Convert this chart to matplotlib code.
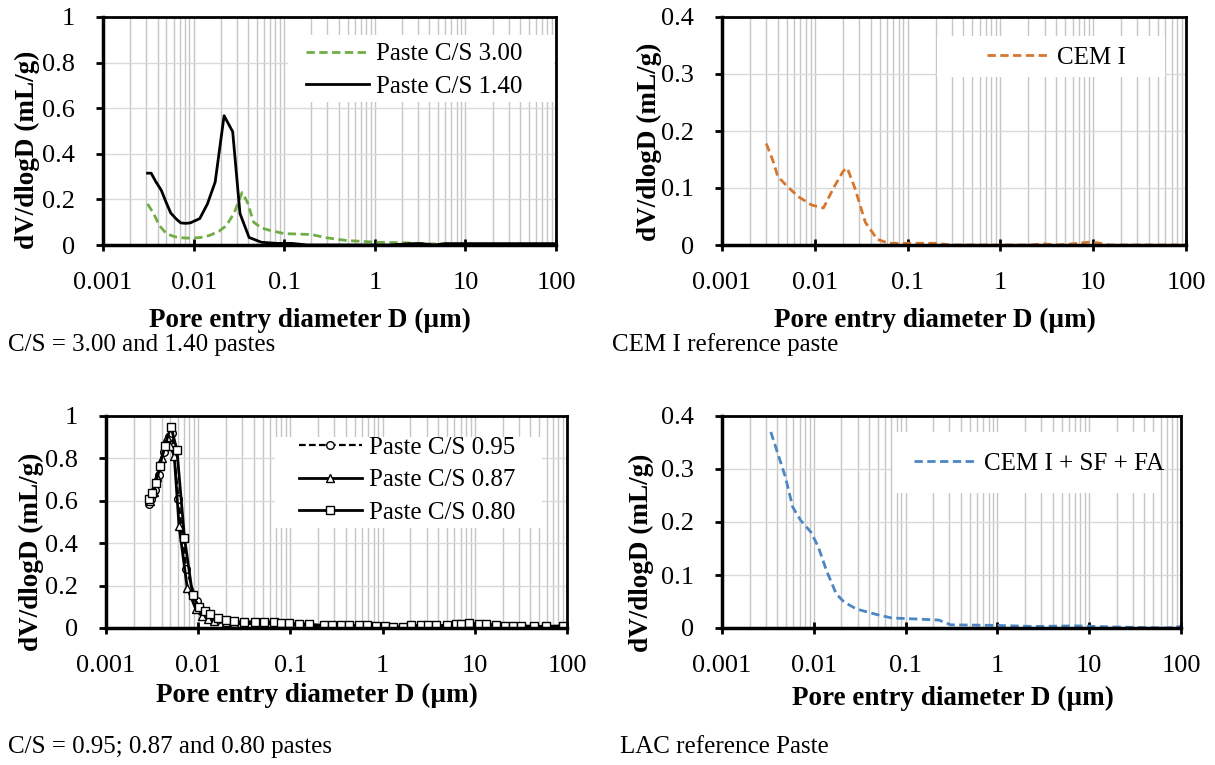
import numpy as np
import matplotlib
matplotlib.use("Agg")
import matplotlib.pyplot as plt
from matplotlib.patches import Rectangle
from matplotlib.ticker import LogLocator, FuncFormatter, NullFormatter

plt.rcParams['font.family'] = ['Liberation Serif', 'DejaVu Serif']

# --- C/S 3.00 and 1.40 pastes ---
d_cs300 = [0.0031, 0.0036, 0.0042, 0.005, 0.0062, 0.0078, 0.0096, 0.012, 0.015, 0.019, 0.023,
           0.028, 0.0343, 0.039, 0.046, 0.056, 0.068, 0.1, 0.2, 0.29, 0.48, 1.04, 2.0, 4.0, 10, 30, 100]
v_cs300 = [0.18, 0.14, 0.085, 0.05, 0.036, 0.031, 0.03, 0.033, 0.042, 0.06, 0.085,
           0.14, 0.23, 0.19, 0.10, 0.075, 0.065, 0.05, 0.046, 0.032, 0.02, 0.012, 0.01, 0.005, 0.004, 0.003, 0.004]

d_cs140 = [0.0031, 0.0034, 0.0038, 0.0044, 0.005, 0.0056, 0.0064, 0.0072, 0.0082, 0.0092, 0.0117,
           0.0142, 0.0173, 0.0217, 0.027, 0.0325, 0.041, 0.056, 0.083, 0.122, 0.18, 0.5, 1.5,
           2.5, 3.3, 4.5, 6.0, 20, 100]
v_cs140 = [0.315, 0.315, 0.28, 0.24, 0.185, 0.14, 0.115, 0.097, 0.095, 0.097, 0.116,
           0.18, 0.276, 0.567, 0.497, 0.138, 0.033, 0.012, 0.007, 0.007, 0.0, 0.0, 0.0,
           0.006, 0.006, 0.0, 0.006, 0.006, 0.006]

# --- CEM I reference paste ---
d_cem = [0.003, 0.0035, 0.004, 0.0049, 0.0066, 0.0093, 0.0124, 0.0159, 0.0203, 0.0224, 0.027,
         0.035, 0.047, 0.063, 0.1, 0.2, 0.3, 1.0, 2.0, 3.0, 4.0, 6.0, 9.0, 11, 15, 30, 100]
v_cem = [0.178, 0.15, 0.12, 0.105, 0.085, 0.07, 0.065, 0.1, 0.13, 0.135, 0.1,
         0.04, 0.01, 0.003, 0.003, 0.003, 0.0, 0.0, 0.0, 0.002, 0.0, 0.002, 0.005, 0.004, 0.0, 0.0, 0.0]

# --- C/S 0.95, 0.87, 0.80 pastes (peak part + shared tail) ---
d_pk_095 = [0.0029, 0.0031, 0.0034, 0.0038, 0.0043, 0.0048, 0.0052, 0.0061, 0.0074, 0.0096, 0.0115, 0.0135, 0.016]
v_pk_095 = [0.585, 0.61, 0.65, 0.72, 0.83, 0.90, 0.92, 0.61, 0.28, 0.126, 0.07, 0.05, 0.038]
d_pk_087 = [0.003, 0.0033, 0.0036, 0.004, 0.0046, 0.005, 0.0055, 0.0062, 0.0076, 0.0094, 0.011, 0.0128, 0.015]
v_pk_087 = [0.60, 0.64, 0.71, 0.80, 0.90, 0.86, 0.81, 0.48, 0.19, 0.09, 0.055, 0.042, 0.032]
d_pk_080 = [0.00292, 0.00315, 0.00348, 0.00384, 0.00435, 0.00506, 0.00588, 0.0071, 0.0087, 0.0102, 0.0118, 0.0134, 0.0162]
v_pk_080 = [0.61, 0.635, 0.685, 0.765, 0.86, 0.95, 0.84, 0.425, 0.155, 0.098, 0.082, 0.066, 0.047]

d_tail = [0.0199, 0.0245, 0.0314, 0.041, 0.052, 0.066, 0.080, 0.097, 0.124, 0.158, 0.23, 0.28, 0.355,
          0.43, 0.55, 0.67, 0.85, 1.07, 1.31, 1.66, 2.03, 2.6, 3.1, 3.8, 5.0, 6.2, 7.1, 8.6, 11,
          13.2, 16.8, 21.5, 26, 31.6, 44, 59, 91]
v_tail_095 = [0.03, 0.026, 0.024, 0.026, 0.026, 0.024, 0.022, 0.019, 0.017, 0.015, 0.01, 0.01, 0.01,
              0.01, 0.01, 0.01, 0.008, 0.007, 0.004, 0.004, 0.01, 0.01, 0.01, 0.01, 0.011, 0.016, 0.019,
              0.021, 0.019, 0.016, 0.013, 0.009, 0.008, 0.008, 0.007, 0.007, 0.009]
v_tail_087 = [0.026, 0.022, 0.02, 0.022, 0.022, 0.02, 0.018, 0.016, 0.014, 0.012, 0.008, 0.008, 0.008,
              0.008, 0.008, 0.008, 0.006, 0.005, 0.003, 0.003, 0.008, 0.008, 0.008, 0.008, 0.01, 0.014, 0.018,
              0.02, 0.018, 0.015, 0.012, 0.008, 0.007, 0.007, 0.006, 0.006, 0.008]
v_tail_080 = [0.036, 0.031, 0.028, 0.03, 0.03, 0.028, 0.025, 0.022, 0.02, 0.018, 0.012, 0.012, 0.012,
              0.012, 0.012, 0.012, 0.01, 0.01, 0.005, 0.005, 0.012, 0.012, 0.012, 0.012, 0.012, 0.018, 0.02,
              0.022, 0.02, 0.018, 0.015, 0.01, 0.01, 0.01, 0.008, 0.008, 0.01]

# --- LAC reference paste ---
d_lac = [0.0034, 0.0049, 0.0059, 0.0072, 0.0093, 0.0112, 0.0137, 0.0176, 0.0214, 0.029, 0.047,
         0.07, 0.128, 0.23, 0.31, 0.9, 2.5, 7.3, 18, 71, 100]
v_lac = [0.37, 0.285, 0.228, 0.203, 0.181, 0.153, 0.109, 0.064, 0.049, 0.036, 0.026,
         0.019, 0.017, 0.015, 0.006, 0.005, 0.003, 0.004, 0.002, 0.0, 0.003]

W, H = 1215, 765
fig = plt.figure(figsize=(W / 100, H / 100), dpi=100)


def make_ax(x0, x1, ytop, ybot):
    ax = fig.add_axes([x0 / W, 1 - ybot / H, (x1 - x0) / W, (ybot - ytop) / H])
    ax._px = (x0, x1, ytop, ybot)
    return ax


def to_ax(ax, px, py):
    x0, x1, ytop, ybot = ax._px
    return (px - x0) / (x1 - x0), (ybot - py) / (ybot - ytop)


def style(ax, ymax, ystep):
    ax.set_xscale('log')
    ax.set_xlim(0.001, 100)
    ax.set_ylim(0, ymax)
    ax.set_yticks(np.arange(0, ymax + 1e-9, ystep))
    ax.yaxis.set_major_formatter(FuncFormatter(lambda v, _: f'{v:g}'))
    ax.xaxis.set_major_locator(LogLocator(base=10, numticks=10))
    ax.xaxis.set_minor_locator(LogLocator(base=10, subs=np.arange(2, 10), numticks=100))
    ax.xaxis.set_major_formatter(FuncFormatter(lambda v, _: f'{v:g}'))
    ax.xaxis.set_minor_formatter(NullFormatter())
    ax.grid(True, which='both', axis='x', color='#c6c6c6', lw=1)
    ax.grid(True, which='major', axis='y', color='#d9d9d9', lw=1)
    ax.set_axisbelow(True)
    ax.tick_params(which='minor', length=0)
    ax.tick_params(axis='x', which='major', direction='inout', length=9, width=2, pad=15, labelsize=19)
    ax.tick_params(axis='y', which='major', direction='out', length=5, width=2, pad=15, labelsize=19)
    for s in ax.spines.values():
        s.set_color('black')
        s.set_linewidth(2)
    ax.spines['left'].set_linewidth(2.5)
    ax.spines['bottom'].set_linewidth(2.5)


def leg(ax, box, hx, ymid):
    # white legend area (pixel box: x0, x1, ytop, ybot), then frameless legend
    bx0, by0 = to_ax(ax, box[0], box[3])
    bx1, by1 = to_ax(ax, box[1], box[2])
    ax.add_patch(Rectangle((bx0, by0), bx1 - bx0, by1 - by0, transform=ax.transAxes,
                           facecolor='white', edgecolor='none', zorder=1))
    ax.legend(loc='center left', bbox_to_anchor=to_ax(ax, hx, ymid), fontsize=18, frameon=False,
              handlelength=2.5, labelspacing=0.4, borderaxespad=0, borderpad=0,
              handletextpad=0.3)


ylab = 'dV/dlogD (mL/g)'
xlab = 'Pore entry diameter D (µm)'
lab_kw = dict(fontsize=19.5, fontweight='bold', ha='center', va='center')
cap_kw = dict(fontsize=18, ha='left', va='center')

# top left
ax1 = make_ax(103, 556, 17, 245)
style(ax1, 1, 0.2)
ax1.plot(d_cs300, v_cs300, color='#70AD47', lw=2, ls=(0, (3, 1.6)), label='Paste C/S 3.00')
ax1.plot(d_cs140, v_cs140, color='black', lw=2, label='Paste C/S 1.40')
leg(ax1, (288, 554, 35, 102), 306, 70.5)
fig.text(27 / W, 1 - 150 / H, ylab, rotation=90, **lab_kw)
fig.text(310 / W, 1 - 320 / H, xlab, **lab_kw)
fig.text(8 / W, 1 - 345 / H, 'C/S = 3.00 and 1.40 pastes', **cap_kw)

# top right
ax2 = make_ax(722, 1186, 17, 245)
style(ax2, 0.4, 0.1)
ax2.plot(d_cem, v_cem, color='#D7772F', lw=2, ls=(0, (3, 1.6)), label='CEM I')
leg(ax2, (937, 1165, 36, 77), 987, 58)
fig.text(649 / W, 1 - 142 / H, ylab, rotation=90, **lab_kw)
fig.text(935 / W, 1 - 320 / H, xlab, **lab_kw)
fig.text(612 / W, 1 - 345 / H, 'CEM I reference paste', **cap_kw)

# bottom left
ax3 = make_ax(106, 567, 416, 628)
style(ax3, 1, 0.2)
mk = dict(markersize=5.5, markerfacecolor='white', markeredgecolor='black', markeredgewidth=1)
ax3.plot(d_pk_095 + d_tail, v_pk_095 + v_tail_095, color='black', lw=1.6, ls=(0, (3, 1.5)),
         marker='o', label='Paste C/S 0.95', **mk)
ax3.plot(d_pk_087 + d_tail, v_pk_087 + v_tail_087, color='black', lw=2, marker='^',
         label='Paste C/S 0.87', **mk)
ax3.plot(d_pk_080 + d_tail, v_pk_080 + v_tail_080, color='black', lw=2, marker='s',
         label='Paste C/S 0.80', **mk)
leg(ax3, (275, 542, 437, 528), 299, 480)
fig.text(31 / W, 1 - 552 / H, ylab, rotation=90, **lab_kw)
fig.text(317 / W, 1 - 695 / H, xlab, **lab_kw)
fig.text(8 / W, 1 - 747 / H, 'C/S = 0.95; 0.87 and 0.80 pastes', **cap_kw)

# bottom right
ax4 = make_ax(722, 1181, 416, 628)
style(ax4, 0.4, 0.1)
ax4.plot(d_lac, v_lac, color='#4C86C3', lw=2, ls=(0, (3, 1.6)), label='CEM I + SF + FA')
leg(ax4, (893, 1155, 432, 493), 914, 464)
fig.text(641 / W, 1 - 553 / H, ylab, rotation=90, **lab_kw)
fig.text(953 / W, 1 - 698 / H, xlab, **lab_kw)
fig.text(620 / W, 1 - 747 / H, 'LAC reference Paste', **cap_kw)

fig.savefig('out.png', dpi=100)
